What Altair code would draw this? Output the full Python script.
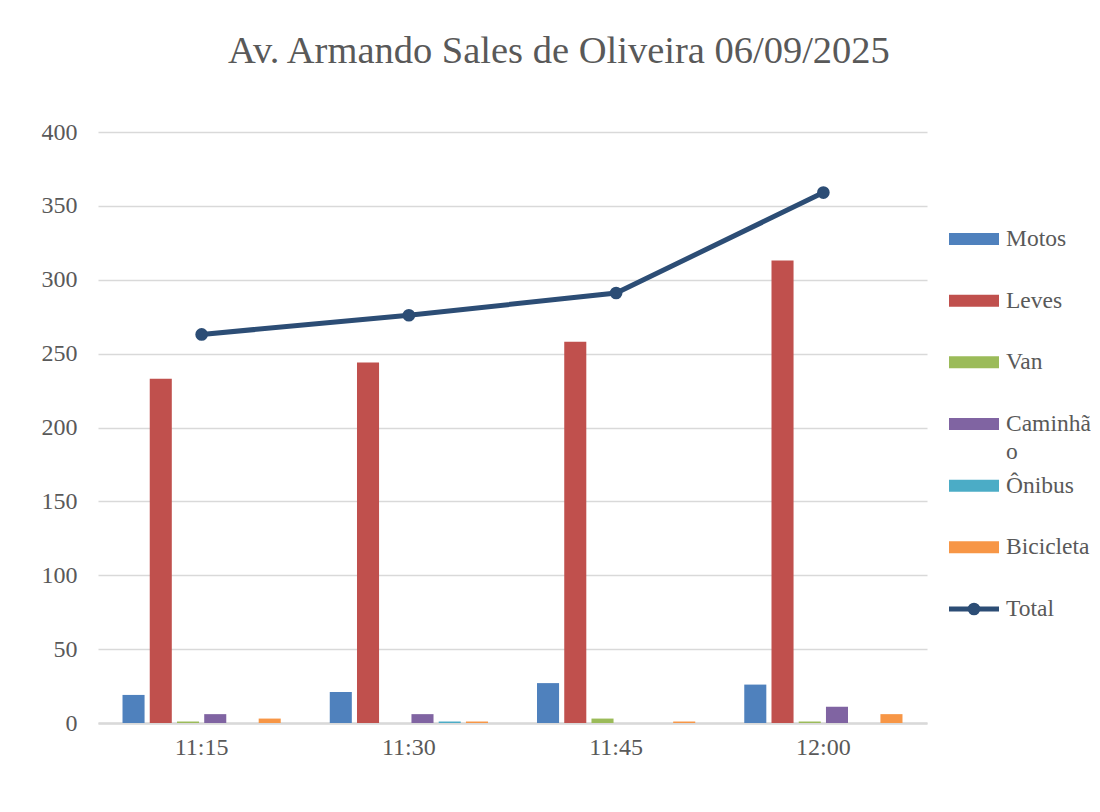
import altair as alt
import pandas as pd

times = ["11:15", "11:30", "11:45", "12:00"]
series = ["Motos", "Leves", "Van", "Caminhão", "Ônibus", "Bicicleta"]
motos = [19, 21, 27, 26]
leves = [233, 244, 258, 313]
van = [1, 0, 3, 1]
caminhao = [6, 6, 0, 11]
onibus = [0, 1, 0, 0]
bicicleta = [3, 1, 1, 6]
total = [263, 276, 291, 359]
colors = ["#4f81bd", "#c0504d", "#9bbb59", "#8064a2", "#4bacc6", "#f79646"]
total_color = "#2c4d75"
legend_labels = ["Motos", "Leves", "Van", "Caminhã\no", "Ônibus", "Bicicleta", "Total"]
y_ticks = [0, 50, 100, 150, 200, 250, 300, 350, 400]

FONT = "Liberation Serif"
TXT = "#595959"

vals = [motos, leves, van, caminhao, onibus, bicicleta]
rows = []
for s, v in zip(series, vals):
    for t, x in zip(times, v):
        rows.append({"time": t, "series": s, "value": x})
df_bars = pd.DataFrame(rows)
df_total = pd.DataFrame({"time": times, "total": total})
df_leg = pd.DataFrame({
    "series": series + ["Total"],
    "idx": list(range(len(series) + 1)),
    "label": legend_labels,
})

all_domain = series + ["Total"]
all_range = colors + [total_color]

x_enc = alt.X("time:N", sort=times,
              scale=alt.Scale(paddingInner=0, paddingOuter=0),
              axis=alt.Axis(title=None, labelAngle=0, ticks=False, labelPadding=12,
                            domainColor="#d9d9d9", domainWidth=2.5,
                            labelFontSize=24, labelFont=FONT, labelColor=TXT))
y_enc = alt.Y("value:Q", scale=alt.Scale(domain=[0, 400], nice=False),
              axis=alt.Axis(title=None, values=y_ticks, ticks=False, domain=False,
                            labelPadding=21, gridColor="#d9d9d9", gridWidth=1.3,
                            labelFontSize=24, labelFont=FONT, labelColor=TXT))

bars = alt.Chart(df_bars).mark_bar().encode(
    x=x_enc,
    xOffset=alt.XOffset("series:N", sort=series,
                        scale=alt.Scale(paddingInner=0.19, paddingOuter=0.9)),
    y=y_enc,
    color=alt.Color("series:N", scale=alt.Scale(domain=all_domain, range=all_range), legend=None),
)

line = alt.Chart(df_total).mark_line(color=total_color, strokeWidth=5).encode(
    x=alt.X("time:N", sort=times),
    y=alt.Y("total:Q"),
)
pts = alt.Chart(df_total).mark_point(filled=True, size=160, opacity=1, color=total_color).encode(
    x=alt.X("time:N", sort=times),
    y=alt.Y("total:Q"),
)

main = alt.layer(bars, line, pts).properties(width=829, height=591)

leg_y = alt.Y("idx:Q", scale=alt.Scale(domain=[-1.735, 7.848], reverse=True, nice=False, zero=False),
              axis=None)
leg_color = alt.Color("series:N", scale=alt.Scale(domain=all_domain, range=all_range), legend=None)

sw = alt.Chart(df_leg).transform_filter(alt.datum.series != "Total").mark_tick(
    thickness=12, size=50, orient="horizontal", opacity=1
).encode(x=alt.value(25), y=leg_y, color=leg_color)

tot_rule = alt.Chart(df_leg).transform_filter(alt.datum.series == "Total").mark_rule(
    strokeWidth=5, color=total_color
).encode(x=alt.value(0), x2=alt.value(50), y=leg_y)
tot_pt = alt.Chart(df_leg).transform_filter(alt.datum.series == "Total").mark_point(
    filled=True, size=160, opacity=1, color=total_color
).encode(x=alt.value(25), y=leg_y)

leg_txt = alt.Chart(df_leg).mark_text(
    align="left", baseline="line-top", lineBreak="\n", lineHeight=28, dy=-14,
    font=FONT, fontSize=23.5, color=TXT
).encode(x=alt.value(57), y=leg_y, text="label:N")

legend = alt.layer(sw, tot_rule, tot_pt, leg_txt).properties(width=100, height=591)

chart = alt.hconcat(main, legend, spacing=19).properties(
    title=alt.TitleParams("Av. Armando Sales de Oliveira 06/09/2025", fontSize=38.5, font=FONT,
                          color=TXT, fontWeight="normal", anchor="middle", offset=49, dx=-7),
    padding={"left": 33, "top": 23, "right": 0, "bottom": 0},
).configure(font=FONT, view=alt.ViewConfig(stroke=None))

chart.save("out.html", embed_options={"renderer": "svg", "actions": False})
